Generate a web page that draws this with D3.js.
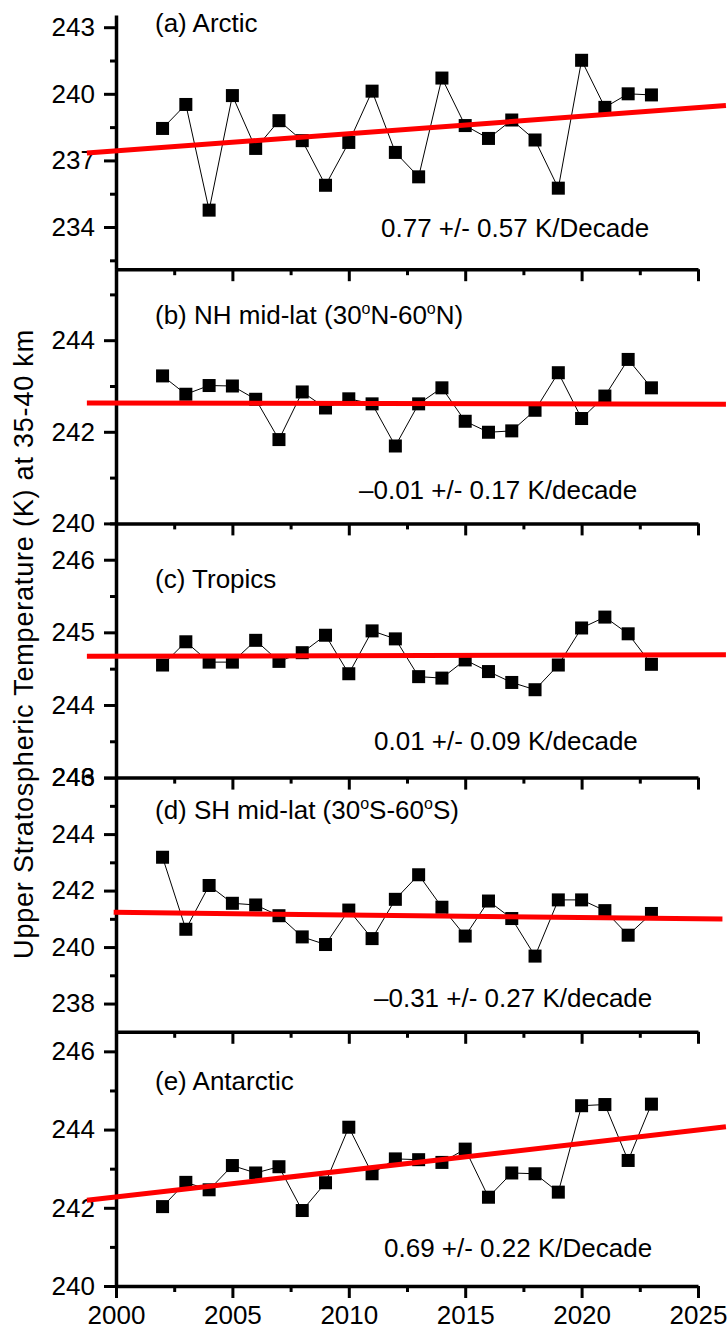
<!DOCTYPE html>
<html>
<head>
<meta charset="utf-8">
<script src="https://cdn.jsdelivr.net/npm/d3@7"></script>
<style>
body { margin: 0; background: #fff; }
text { font-family: "Liberation Sans", Arial, sans-serif; fill: #000; }
</style>
</head>
<body>
<div id="chart"></div>
<script>
// yearly values
const years = [2002, 2003, 2004, 2005, 2006, 2007, 2008, 2009, 2010, 2011, 2012,
               2013, 2014, 2015, 2016, 2017, 2018, 2019, 2020, 2021, 2022, 2023];
const arctic = [238.44, 239.52, 234.76, 239.92, 237.54, 238.79, 237.89, 235.88, 237.81, 240.12, 237.36,
                236.26, 240.71, 238.57, 237.99, 238.82, 237.92, 235.75, 241.51, 239.39, 240.0, 239.95];
const nhMidLat = [243.22, 242.82, 243.01, 243.0, 242.71, 241.83, 242.87, 242.52, 242.72, 242.61, 241.69,
                  242.61, 242.96, 242.23, 241.99, 242.02, 242.47, 243.29, 242.29, 242.78, 243.58, 242.96];
const tropics = [244.55, 244.87, 244.59, 244.59, 244.89, 244.60, 244.72, 244.96, 244.43, 245.02, 244.91,
                 244.39, 244.37, 244.62, 244.46, 244.31, 244.21, 244.55, 245.06, 245.21, 244.98, 244.56];
const shMidLat = [243.18, 240.63, 242.18, 241.55, 241.49, 241.11, 240.36, 240.09, 241.31, 240.30, 241.69,
                  242.56, 241.41, 240.39, 241.63, 241.01, 239.68, 241.67, 241.67, 241.29, 240.42, 241.19];
const antarctic = [242.03, 242.65, 242.46, 243.08, 242.89, 243.05, 241.93, 242.64, 244.06, 242.87, 243.25,
                   243.23, 243.16, 243.5, 242.27, 242.89, 242.87, 242.40, 244.61, 244.64, 243.21, 244.65];
const series = [arctic, nhMidLat, tropics, shMidLat, antarctic];

const panelNames = ["(a) Arctic", "(b) NH mid-lat (30^oN-60^oN)", "(c) Tropics",
                    "(d) SH mid-lat (30^oS-60^oS)", "(e) Antarctic"];
const trendLabels = ["0.77 +/- 0.57 K/Decade", "\u20130.01 +/- 0.17 K/decade", "0.01 +/- 0.09 K/decade",
                     "\u20130.31 +/- 0.27 K/decade", "0.69 +/- 0.22 K/Decade"];

// red fit lines: end points (year, K)
const trendYears = [[1998.75, 2026.2], [1998.75, 2026.2], [1998.75, 2026.2], [1999.9, 2026.05], [1998.75, 2026.2]];
const trendValues = [[237.33, 239.47], [242.63, 242.60], [244.67, 244.69], [241.23, 240.99], [242.19, 244.07]];

const xDomain = [2000, 2025];
const xMajorTicks = [2000, 2005, 2010, 2015, 2020, 2025];
const xMinorTicks = [2002.5, 2007.5, 2012.5, 2017.5, 2022.5];
const yDomains = [[232.1, 243.55], [240, 245.55], [243, 246.5], [237, 246], [240, 246.5]];
const yMajorTicks = [[234, 237, 240, 243], [240, 242, 244], [243, 244, 245, 246],
                     [238, 240, 242, 244, 246], [240, 242, 244, 246]];
const yMinorTicks = [[232.5, 235.5, 238.5, 241.5], [241, 243, 245], [243.5, 244.5, 245.5, 246.5],
                     [239, 241, 243, 245], [241, 243, 245]];
const yTitle = "Upper Stratospheric Temperature (K) at 35-40 km";

// layout
const margin = { top: 15, left: 116, right: 30, bottom: 48 };
const svg = d3.select("#chart").append("svg").attr("width", 728).attr("height", 1334);
const width = 698 - margin.left;
const panelH = (1334 - margin.top - margin.bottom) / series.length;
const fontSize = 26;
const titleOffset = [17, 55, 65, 41, 58];
const labelOffset = [32, 24, 28, 25, 29];
const labelX = [265, 243, 258, 258, 268];

const xScale = d3.scaleLinear().domain(xDomain).range([0, width]);

function style_axis(g, lw)
{
    g.selectAll("path").attr("stroke", "#000").attr("stroke-width", lw);
    g.selectAll("line").attr("stroke", "#000").attr("stroke-width", 3);
    g.selectAll("text").attr("font-size", fontSize).attr("font-family", "\"Liberation Sans\", Arial, sans-serif");
}

function draw_panel(i)
{
    var canvas = svg.append("g")
        .attr("transform", `translate(${margin.left},${margin.top + i * panelH})`);
    var yScale = d3.scaleLinear().domain(yDomains[i]).range([panelH, 0]);
    var last = i === series.length - 1;

    // x axis (bottom of every panel, labels only on the last one)
    canvas.append("g")
        .attr("transform", `translate(0,${panelH})`)
        .call(d3.axisBottom(xScale).tickValues(xMinorTicks).tickSize(6).tickSizeOuter(0).tickFormat(""))
        .call(g => g.select(".domain").remove())
        .call(g => style_axis(g, 3));
    canvas.append("g")
        .attr("transform", `translate(0,${panelH})`)
        .call(d3.axisBottom(xScale).tickValues(xMajorTicks).tickSize(12).tickSizeOuter(0).tickPadding(8)
            .tickFormat(last ? d3.format("d") : ""))
        .call(g => style_axis(g, 3.5));

    // y axis
    canvas.append("g")
        .call(d3.axisLeft(yScale).tickValues(yMinorTicks[i]).tickSize(6).tickSizeOuter(0).tickFormat(""))
        .call(g => g.select(".domain").remove())
        .call(g => style_axis(g, 3));
    canvas.append("g")
        .call(d3.axisLeft(yScale).tickValues(yMajorTicks[i]).tickSize(12).tickSizeOuter(0).tickPadding(9)
            .tickFormat(d3.format("d")))
        .call(g => style_axis(g, 3.5));

    var pts = years.map((y, k) => [y, series[i][k]]);

    canvas.append("path")
        .datum(pts)
        .attr("fill", "none")
        .attr("stroke", "#000")
        .attr("stroke-width", 1)
        .attr("d", d3.line().x(d => xScale(d[0])).y(d => yScale(d[1])));

    canvas.append("g")
        .selectAll("rect")
        .data(pts)
        .enter().append("rect")
        .attr("x", d => xScale(d[0]) - 6.5)
        .attr("y", d => yScale(d[1]) - 6.5)
        .attr("width", 13)
        .attr("height", 13)
        .attr("fill", "#000");

    var fit = trendYears[i].map((y, k) => [y, trendValues[i][k]]);
    canvas.append("path")
        .datum(fit)
        .attr("fill", "none")
        .attr("stroke", "#ff0000")
        .attr("stroke-width", 5)
        .attr("d", d3.line().x(d => xScale(d[0])).y(d => yScale(d[1])));

    // panel title, "^o" is a raised small o
    var title = canvas.append("text")
        .attr("x", 39)
        .attr("y", titleOffset[i])
        .attr("font-size", fontSize);
    var parts = panelNames[i].split("^o");
    parts.forEach(function (p, k) {
        if (k > 0) {
            title.append("tspan").attr("font-size", 16).attr("dy", -10).text("o");
            title.append("tspan").attr("font-size", fontSize).attr("dy", 10).text(p);
        } else {
            title.append("tspan").text(p);
        }
    });

    canvas.append("text")
        .attr("x", labelX[i])
        .attr("y", panelH - labelOffset[i])
        .attr("font-size", fontSize)
        .text(trendLabels[i]);
}

series.forEach((s, i) => draw_panel(i));

svg.append("text")
    .attr("transform", "translate(33," + 644 + ") rotate(-90)")
    .attr("text-anchor", "middle")
    .attr("font-size", 27)
    .attr("letter-spacing", 0.8)
    .text(yTitle);
</script>
</body>
</html>
